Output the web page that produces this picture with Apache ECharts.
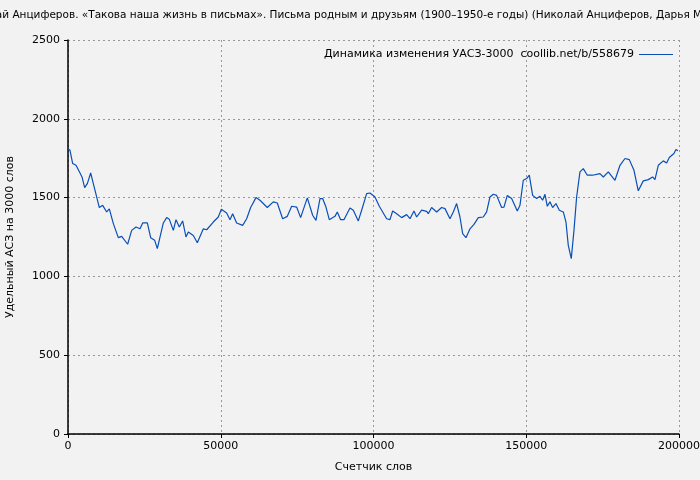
<!DOCTYPE html>
<html>
<head>
<meta charset="utf-8">
<script src="https://cdn.jsdelivr.net/npm/echarts@6/dist/echarts.min.js"></script>
<style>
    html, body { margin: 0; padding: 0; background: #f2f2f2; }
    #chart { width: 700px; height: 480px; }
</style>
</head>
<body>
<div id="chart"></div>
<script>
var titleText = 'Николай Анциферов. «Такова наша жизнь в письмах». Письма родным и друзьям (1900–1950-е годы) (Николай Анциферов, Дарья Мусина)';
var seriesName = 'Динамика изменения УАСЗ-3000  coollib.net/b/558679';

// word counter positions
var words = [0, 655, 1530, 2620, 3930, 4580, 5455, 6330, 7420, 8290, 9380, 10250, 11350, 12660, 13530,
    14840, 16470, 17570, 19530, 20840, 22260, 23570, 24440, 25970, 27060, 28370, 29240, 31200, 32290,
    33170, 34480, 35350, 36440, 37530, 38620, 39390, 41020, 42330, 44300, 45390, 47570, 49200, 50190,
    51930, 53020, 53890, 55200, 57170, 58480, 59790, 61530, 62840, 65240, 67200, 68510, 70260, 71790,
    73210, 74840, 76150, 78330, 80080, 81170, 82480, 83350, 84440, 85530, 87390, 88150, 89240, 90330,
    92300, 93390, 95030, 96120, 97750, 98840, 100480, 101900, 104300, 105390, 106270, 107580, 109210,
    110850, 111940, 113250, 114120, 115760, 117400, 117940, 119030, 120670, 122300, 123400, 125030,
    126120, 127210, 128300, 129180, 130270, 131580, 132890, 134310, 135940, 137030, 138130, 139220,
    140300, 141940, 142710, 143800, 145220, 147070, 147940, 149030, 150120, 151000, 152090, 153400,
    154490, 155360, 156130, 156890, 157760, 158630, 159720, 160820, 162130, 163000, 163760, 164740,
    165620, 166490, 167580, 168670, 169980, 171730, 174130, 175220, 176860, 179040, 180680, 182310,
    183730, 185260, 186670, 188310, 189950, 191360, 192130, 193220, 194860, 195950, 196820, 198350,
    199000, 199650];

// specific value per 3000 words
var values = [1810, 1800, 1716, 1705, 1656, 1631, 1563, 1589, 1656, 1589, 1504, 1437, 1451, 1409, 1428,
    1335, 1246, 1254, 1204, 1292, 1313, 1302, 1339, 1339, 1246, 1229, 1176, 1339, 1373,
    1362, 1292, 1360, 1313, 1352, 1250, 1282, 1260, 1214, 1302, 1296, 1345, 1377, 1426,
    1402, 1360, 1398, 1339, 1324, 1366, 1437, 1500, 1483, 1437, 1473, 1466, 1366, 1381,
    1445, 1440, 1373, 1498, 1388, 1356, 1494, 1494, 1440, 1360, 1381, 1409, 1360, 1360,
    1434, 1420, 1352, 1420, 1525, 1529, 1504, 1445, 1366, 1360, 1415, 1398, 1373,
    1392, 1366, 1415, 1377, 1420, 1413, 1398, 1437, 1409, 1437, 1430, 1366,
    1409, 1462, 1377, 1271, 1246, 1302, 1330, 1373, 1377, 1409, 1504, 1521,
    1514, 1437, 1440, 1514, 1494, 1415, 1451, 1610, 1621, 1642, 1514, 1494,
    1508, 1483, 1521, 1445, 1473, 1437, 1462, 1420, 1409, 1345, 1197, 1113,
    1292, 1504, 1663, 1684, 1642, 1642, 1652, 1631, 1663, 1610, 1705, 1748,
    1741, 1673, 1543, 1606, 1614, 1631, 1614, 1705, 1733, 1720, 1754, 1780,
    1805, 1797];

var xTicks = [0, 50000, 100000, 150000, 200000];
var yTicks = [0, 500, 1000, 1500, 2000, 2500];

var points = words.map(function (w, i) { return [w, values[i]]; });

var chart = echarts.init(document.getElementById('chart'));

var gridLine = { show: true, lineStyle: { color: '#999', type: [2, 3], width: 1 } };
var axisText = { color: '#000', fontFamily: 'DejaVu Sans', fontSize: 11 };
var plain = function (v) { return String(v); };

chart.setOption({
    backgroundColor: '#f2f2f2',
    animation: false,
    title: {
        text: titleText,
        left: 'center',
        top: 5,
        textStyle: { fontFamily: 'DejaVu Sans', fontSize: 10.5, fontWeight: 'normal', color: '#000' }
    },
    legend: {
        right: 22,
        top: 44,
        align: 'right',
        itemWidth: 34,
        itemGap: 8,
        icon: 'path://M0,0H34V1H0Z',
        textStyle: { fontFamily: 'DejaVu Sans', fontSize: 11, color: '#000' },
        data: [seriesName]
    },
    grid: { left: 68, right: 21, top: 40, bottom: 46, containLabel: false, outerBoundsMode: 'none' },
    xAxis: {
        type: 'value',
        min: xTicks[0],
        max: xTicks[xTicks.length - 1],
        interval: 50000,
        name: 'Счетчик слов',
        nameLocation: 'middle',
        nameGap: 28,
        nameTextStyle: axisText,
        axisLine: { lineStyle: { color: '#000', width: 1.5 } },
        axisTick: { lineStyle: { color: '#000' }, length: 4 },
        axisLabel: Object.assign({ margin: 7, formatter: plain }, axisText),
        splitLine: gridLine
    },
    yAxis: {
        type: 'value',
        min: yTicks[0],
        max: yTicks[yTicks.length - 1],
        interval: 500,
        name: 'Удельный АСЗ на 3000 слов',
        nameLocation: 'middle',
        nameGap: 52,
        nameTextStyle: axisText,
        axisLine: { show: true, lineStyle: { color: '#000', width: 1.5 } },
        axisTick: { show: true, lineStyle: { color: '#000' }, length: 4 },
        axisLabel: Object.assign({ margin: 8, formatter: plain }, axisText),
        splitLine: gridLine
    },
    series: [{
        name: seriesName,
        type: 'line',
        data: points,
        showSymbol: false,
        symbol: 'none',
        lineStyle: { color: '#0a4fb8', width: 1.2 },
        itemStyle: { color: '#0a4fb8' }
    }]
});
</script>
</body>
</html>
